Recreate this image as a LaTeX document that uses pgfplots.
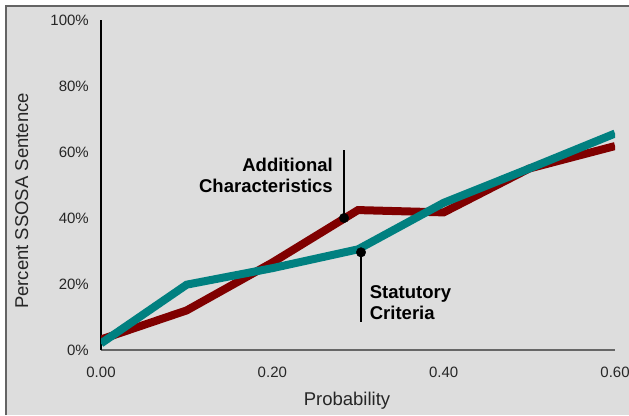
\documentclass[border=0pt]{standalone}
\usepackage{fontspec}
\setmainfont{Liberation Sans}
\usepackage{pgfplots}
\pgfplotsset{compat=1.18}
\definecolor{chartbg}{RGB}{221,221,221}
\definecolor{framegray}{RGB}{100,100,100}
\definecolor{addred}{RGB}{128,0,0}
\definecolor{statteal}{RGB}{0,128,128}

\begin{document}
\begin{tikzpicture}[x=1bp,y=1bp]
\useasboundingbox (0,0) rectangle (629,415);
\fill[white] (0,0) rectangle (629,415);
\fill[chartbg] (6,0) rectangle (629,409);
\draw[framegray, line width=2bp] (6,0) -- (6,409) -- (629,409);
\begin{axis}[
    at={(101bp,65bp)}, anchor=south west,
    scale only axis,
    width=514bp, height=330bp,
    xmin=0, xmax=0.6, ymin=0, ymax=100,
    axis lines=left,
    axis line style={-},
    x axis line style={draw=black!60, line width=2bp},
    y axis line style={draw=black, line width=1.2bp},
    major tick length=0pt,
    tick style={draw=none},
    xtick={0,0.2,0.4,0.6},
    xticklabels={0.00,0.20,0.40,0.60},
    ytick={0,20,40,60,80,100},
    yticklabels={0\%,20\%,40\%,60\%,80\%,100\%},
    tick label style={font=\fontsize{15bp}{18bp}\selectfont, text=black!85},
    xticklabel style={anchor=north, inner sep=0pt, yshift=-17bp},
    yticklabel style={anchor=east, inner sep=0pt, xshift=-12bp},
    xlabel={Probability},
    xlabel style={at={(axis description cs:0.4786,-0.168)}, anchor=base,
        font=\fontsize{18.5bp}{22bp}\selectfont, text=black!85},
    ylabel={Percent SSOSA Sentence},
    ylabel style={at={(axis description cs:-0.142,0.4515)}, anchor=base,
        font=\fontsize{18.5bp}{22bp}\selectfont, text=black!85},
]
% Additional Characteristics
\addplot[addred, line width=8bp] coordinates {
    (0,3.2) (0.1,12) (0.2,26.5) (0.3,42.4) (0.4,41.7) (0.5,55) (0.6,61.8)
};
% Statutory Criteria
\addplot[statteal, line width=8bp] coordinates {
    (0,2) (0.1,19.8) (0.2,24.8) (0.3,30.5) (0.4,44.6) (0.5,55) (0.6,65.6)
};
% callout leaders
\addplot[black, line width=1.5bp] coordinates {(0.2837,40) (0.2837,60.6)};
\addplot[black, line width=1.5bp] coordinates {(0.3035,29.6) (0.3035,8.6)};
\addplot[only marks, mark=*, mark size=4.75bp, black] coordinates {
    (0.2837,40) (0.3035,29.6)
};
\node[anchor=base east, inner sep=0pt, font=\bfseries\fontsize{18.5bp}{22bp}\selectfont]
    at (axis cs:0.2708,54.15) {Additional};
\node[anchor=base east, inner sep=0pt, font=\bfseries\fontsize{18.5bp}{22bp}\selectfont]
    at (axis cs:0.2708,47.7) {Characteristics};
\node[anchor=base west, inner sep=0pt, font=\bfseries\fontsize{18.5bp}{22bp}\selectfont]
    at (axis cs:0.3136,15.5) {Statutory};
\node[anchor=base west, inner sep=0pt, font=\bfseries\fontsize{18.5bp}{22bp}\selectfont]
    at (axis cs:0.3136,9.1) {Criteria};
\end{axis}
\end{tikzpicture}
\end{document}
